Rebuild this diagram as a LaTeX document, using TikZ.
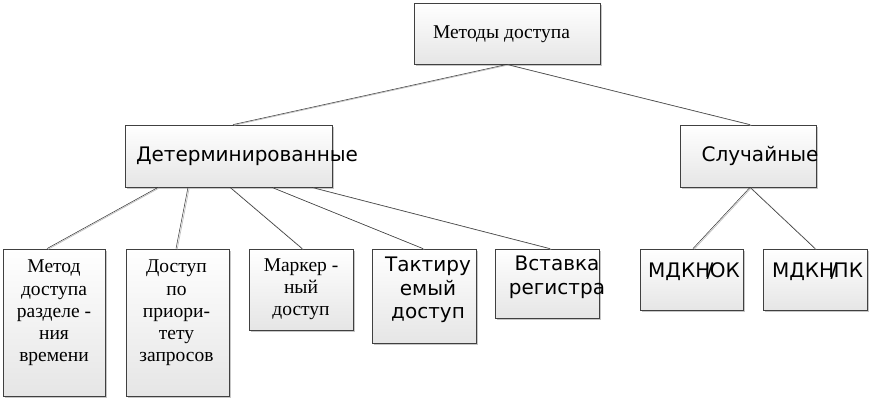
\documentclass[tikz,border=0pt]{standalone}
\usepackage{fontspec}
\setmainfont{Liberation Serif}
\setsansfont{DejaVu Sans}
\usetikzlibrary{shadows}
\begin{document}
\begin{tikzpicture}[x=1pt, y=-1pt,
    box/.style={draw=black!75, line width=0.8pt, top color=white, bottom color=black!10, inner sep=0pt, drop shadow={shadow xshift=1.8pt, shadow yshift=-1.8pt, fill=black!22, opacity=1}},
    stxt/.style={font=\fontsize{19.5}{22.2}\selectfont, align=center, inner sep=0pt, anchor=base},
    sstxt/.style={font=\sffamily\fontsize{20}{24}\selectfont, align=center, inner sep=0pt, anchor=base},
    link/.style={draw=black!80, line width=0.5pt, preaction={draw=black!25, line width=0.7pt, transform canvas={xshift=1.2pt, yshift=-0.6pt}}}]
      \useasboundingbox (0,0) rectangle (870,401);

      % boxes
      \node[box, minimum width=186pt, minimum height=61pt] (root) at (507,33.5) {};
      \node[box, minimum width=207pt, minimum height=62pt] (det) at (228.5,156) {};
      \node[box, minimum width=136pt, minimum height=62pt] (rnd) at (748,156) {};

      \node[box, minimum width=102pt, minimum height=147pt] (tdm) at (54,322.5) {};
      \node[box, minimum width=103pt, minimum height=147pt] (prio) at (177.5,322.5) {};
      \node[box, minimum width=104pt, minimum height=81pt] (token) at (301,289.5) {};
      \node[box, minimum width=104pt, minimum height=94pt] (slot) at (424,296) {};
      \node[box, minimum width=104pt, minimum height=69pt] (reg) at (547,283.5) {};
      \node[box, minimum width=103pt, minimum height=61pt] (cd) at (691.5,279.5) {};
      \node[box, minimum width=104pt, minimum height=61pt] (ca) at (815,279.5) {};

      % texts (base = last line)
      \node[stxt] (troot) at ([xshift=-5.5pt, yshift=-36pt]root.north) {Методы доступа};
      \node[sstxt] (tdet) at ([xshift=18.5pt, yshift=-37pt]det.north) {Детерминированные};
      \node[sstxt] (trnd) at ([xshift=12pt, yshift=-37pt]rnd.north) {Случайные};

      \node[stxt] (ttdm) at ([yshift=-113pt]tdm.north) {Метод\\доступа\\разделе -\\ния\\времени};
      \node[stxt] (tprio) at ([xshift=-1pt, yshift=-113pt]prio.north) {Доступ\\по\\приори-\\тету\\запросов};
      \node[stxt] (ttoken) at ([yshift=-67pt]token.north) {Маркер -\\ный\\доступ};
      \node[sstxt, font=\sffamily\fontsize{20}{23.5}\selectfont] (tslot) at ([xshift=4pt, yshift=-70pt]slot.north) {Тактиру\\емый\\доступ};
      \node[sstxt] (treg) at ([xshift=10pt, yshift=-46pt]reg.north) {Вставка\\регистра};
      \node[sstxt] (tcd) at ([xshift=2.5pt, yshift=-29pt]cd.north) {МДКН\kern-0.18em/\kern-0.18emОК};
      \node[sstxt] (tca) at ([xshift=2.5pt, yshift=-29pt]ca.north) {МДКН\kern-0.18em/\kern-0.18emПК};

      % connectors
      \draw[link] (root.south) -- ([xshift=4.5pt]det.north);
      \draw[link] (root.south) -- ([xshift=2pt]rnd.north);

      \draw[link] ([xshift=-70.5pt]det.south) -- ([xshift=-7pt]tdm.north);
      \draw[link] ([xshift=-40.5pt]det.south) -- ([xshift=-1.5pt]prio.north);
      \draw[link] ([xshift=1.5pt]det.south) -- ([xshift=1pt]token.north);
      \draw[link] ([xshift=43.5pt]det.south) -- ([xshift=-1pt]slot.north);
      \draw[link] ([xshift=83.5pt]det.south) -- ([xshift=3pt]reg.north);

      \draw[link] ([xshift=2pt]rnd.south) -- ([xshift=1.5pt]cd.north);
      \draw[link] ([xshift=2pt]rnd.south) -- (ca.north);
\end{tikzpicture}
\end{document}
